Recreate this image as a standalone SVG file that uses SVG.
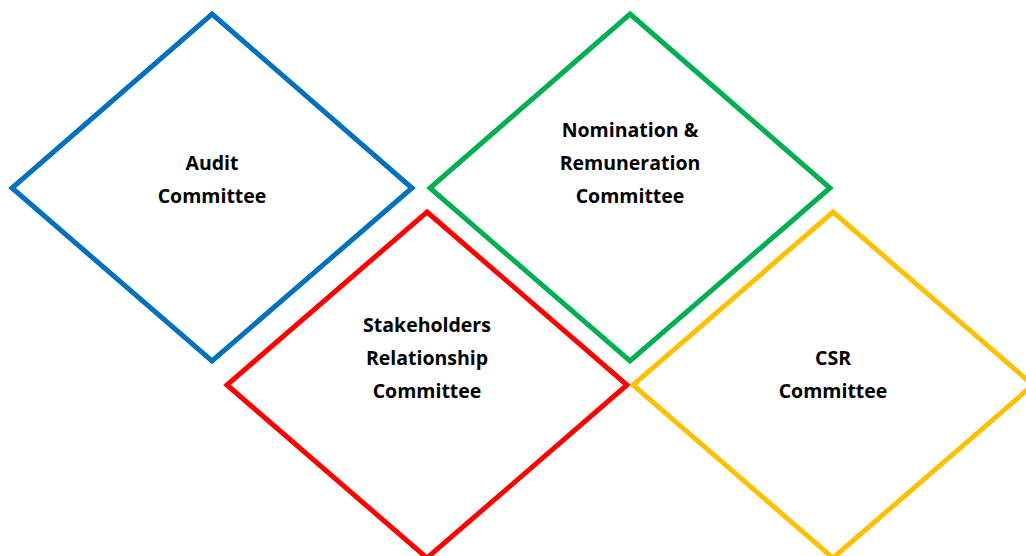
<svg xmlns="http://www.w3.org/2000/svg" width="1026" height="556" viewBox="0 0 1026 556">
<style>
.d{fill:none;stroke-width:5;stroke-linejoin:miter}
.t{font-family:"Open Sans","Liberation Sans",sans-serif;font-weight:bold;font-size:19.5px;fill:#000;text-anchor:middle}
</style>
<rect width="1026" height="556" fill="#fff"/>
<g id="connectors"></g>
<g id="audit">
<polygon class="d" stroke="#0070C0" points="212,14 412,188 212,361 12,188"/>
<text class="t" x="212" y="170">Audit</text>
<text class="t" x="212" y="203">Committee</text>
</g>
<g id="nomination">
<polygon class="d" stroke="#00B050" points="630,14 830,188 630,361 430,188"/>
<text class="t" x="630" y="137">Nomination &amp;</text>
<text class="t" x="630" y="170">Remuneration</text>
<text class="t" x="630" y="203">Committee</text>
</g>
<g id="stakeholders">
<polygon class="d" stroke="#FF0000" points="427,212 627,385 427,558 227,385"/>
<text class="t" x="427" y="332">Stakeholders</text>
<text class="t" x="427" y="365">Relationship</text>
<text class="t" x="427" y="398">Committee</text>
</g>
<g id="csr">
<polygon class="d" stroke="#FFC000" points="833,212 1033,385 833,558 633,385"/>
<text class="t" x="833" y="365">CSR</text>
<text class="t" x="833" y="398">Committee</text>
</g>
</svg>
